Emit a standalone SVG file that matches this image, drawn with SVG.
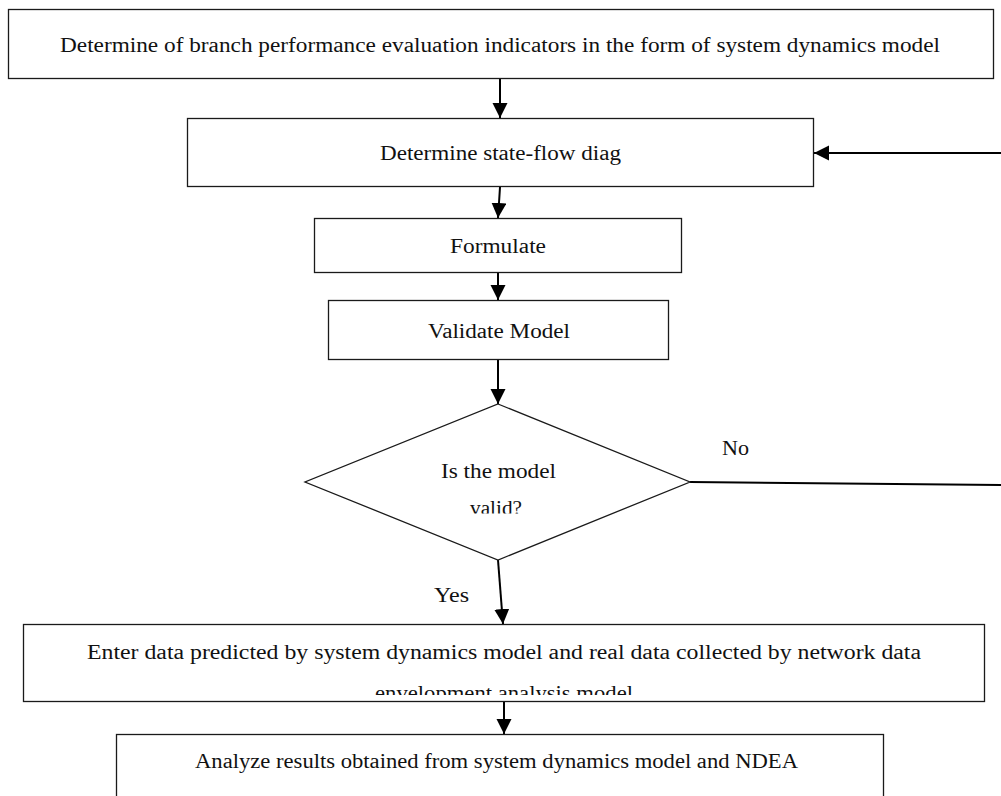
<svg xmlns="http://www.w3.org/2000/svg" width="1001" height="796" viewBox="0 0 1001 796">
<style>
.box{fill:#fff;stroke:#1a1a1a;stroke-width:1.3}
.t{font-family:"Liberation Serif","DejaVu Serif",serif;font-size:20px;fill:#111;text-anchor:middle}
.l{font-family:"Liberation Serif","DejaVu Serif",serif;font-size:20px;fill:#111}
.c{stroke:#000;stroke-width:2;fill:none;marker-end:url(#ah)}
.n{stroke:#000;stroke-width:2;fill:none}
</style>
<defs>
<marker id="ah" markerUnits="userSpaceOnUse" markerWidth="16" markerHeight="16" refX="15" refY="7.5" orient="auto">
<path d="M0,0 L15,7.5 L0,15 z" fill="#000"/>
</marker>
<clipPath id="clipValid"><rect x="400" y="490" width="200" height="23.5"/></clipPath>
<clipPath id="clipEnv"><rect x="200" y="680" width="600" height="15"/></clipPath>
</defs>
<rect width="1001" height="796" fill="#fff"/>
<g id="connectors">
<line class="c" x1="500" y1="79" x2="500" y2="118"/>
<line class="c" x1="1001" y1="153" x2="814" y2="153"/>
<line class="c" x1="500" y1="187" x2="498" y2="218"/>
<line class="c" x1="498" y1="273" x2="498" y2="300"/>
<line class="c" x1="498" y1="360" x2="498" y2="404"/>
<line class="n" x1="690" y1="482" x2="1001" y2="485"/>
<line class="c" x1="498" y1="560" x2="503" y2="624"/>
<line class="c" x1="504" y1="702" x2="504" y2="734"/>
<text class="l" x="722" y="455" textLength="27" lengthAdjust="spacingAndGlyphs">No</text>
<text class="l" x="434" y="602" textLength="35" lengthAdjust="spacingAndGlyphs">Yes</text>
</g>
<g id="n1">
<rect class="box" x="8.5" y="9.5" width="985" height="69"/>
<text class="t" x="500" y="52" textLength="880" lengthAdjust="spacingAndGlyphs">Determine of branch performance evaluation indicators in the form of system dynamics model</text>
</g>
<g id="n2">
<rect class="box" x="187.5" y="118.5" width="626" height="68"/>
<text class="t" x="500.5" y="160" textLength="241" lengthAdjust="spacingAndGlyphs">Determine state-flow diag</text>
</g>
<g id="n3">
<rect class="box" x="314.5" y="218.5" width="367" height="54"/>
<text class="t" x="498" y="253" textLength="96" lengthAdjust="spacingAndGlyphs">Formulate</text>
</g>
<g id="n4">
<rect class="box" x="328.5" y="300.5" width="340" height="59"/>
<text class="t" x="499" y="338" textLength="142" lengthAdjust="spacingAndGlyphs">Validate Model</text>
</g>
<g id="n5">
<polygon class="box" points="498,404 690,482 498,560 305,482"/>
<text class="t" x="498.5" y="478" textLength="115" lengthAdjust="spacingAndGlyphs">Is the model</text>
<text class="t" x="496" y="515" textLength="52" lengthAdjust="spacingAndGlyphs" clip-path="url(#clipValid)">valid?</text>
</g>
<g id="n6">
<rect class="box" x="23.5" y="624.5" width="961" height="77"/>
<text class="t" x="504" y="659" textLength="834" lengthAdjust="spacingAndGlyphs">Enter data predicted by system dynamics model and real data collected by network data</text>
<text class="t" x="504" y="700" textLength="258" lengthAdjust="spacingAndGlyphs" clip-path="url(#clipEnv)">envelopment analysis model</text>
</g>
<g id="n7">
<rect class="box" x="116.5" y="734.5" width="767" height="80"/>
<text class="t" x="496.5" y="768" textLength="603" lengthAdjust="spacingAndGlyphs">Analyze results obtained from system dynamics model and NDEA</text>
</g>
</svg>
